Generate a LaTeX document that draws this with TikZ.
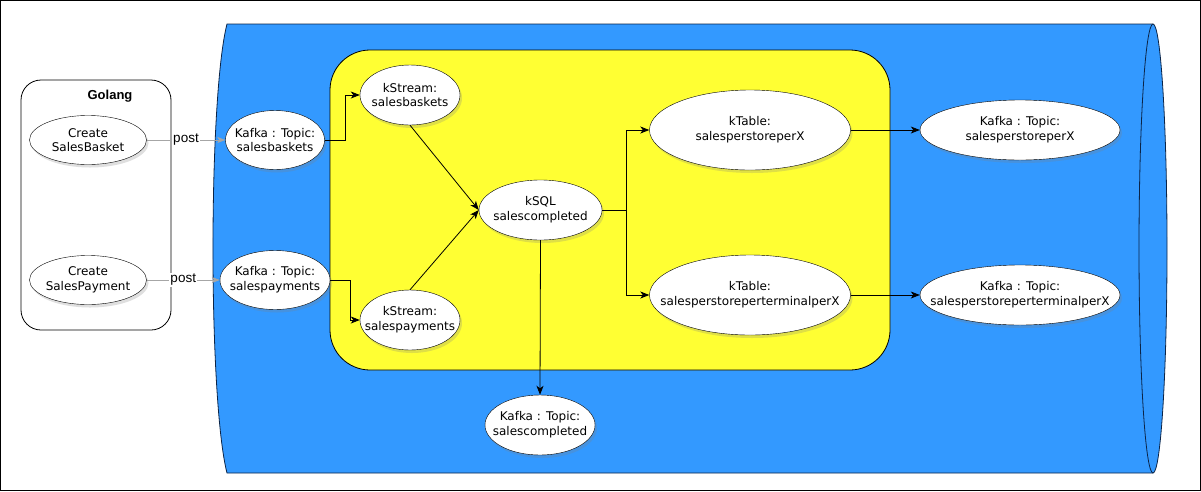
\documentclass[tikz,border=0pt]{standalone}
\usepackage{fontspec}
\setmainfont{DejaVu Sans}
\newfontfamily\helv{Liberation Sans}
\usetikzlibrary{shapes.geometric,arrows.meta,shadows}
\definecolor{cylblue}{HTML}{3399FF}
\definecolor{cylline}{HTML}{0B2447}
\definecolor{ylw}{HTML}{FFFF33}
\definecolor{postgray}{HTML}{A6A6A6}
\tikzset{
  ell/.style={ellipse, draw=black, fill=white, inner sep=0pt,
    drop shadow={shadow xshift=2pt, shadow yshift=-3pt, opacity=0.25}},
  txt/.style={align=center, inner sep=0pt, font=\fontsize{12}{14.7}\selectfont},
  arr/.style={draw=black, line width=0.8pt, -{Stealth[length=9pt,width=7pt,inset=2.5pt]}},
  postarr/.style={draw=postgray, line width=0.8pt, -{Stealth[length=8pt,width=6pt,inset=2pt]}},
  postlbl/.style={fill=white, inner sep=1pt, font=\helv\fontsize{13.5}{15}\selectfont}
}
\begin{document}
\begin{tikzpicture}[x=1pt,y=-1pt]
\useasboundingbox (0,0) rectangle (1201,491);
\draw[black, line width=1pt] (0.5,0.5) rectangle (1200.5,490.5);
% Golang container
\draw[black, line width=0.8pt, fill=white, rounded corners=20pt] (21,80) rectangle (171,330);
\node[font=\helv\bfseries\fontsize{13}{15}\selectfont] (golang) at (110,96) {Golang};
% Cylinder
\fill[cylblue] (227,24) -- (1153,24) -- (1153,473) -- (227,473) .. controls (208.3,400) and (208.3,97) .. (227,24) -- cycle;
\draw[cylline, line width=0.8pt] (1153,24) -- (227,24) .. controls (208.3,97) and (208.3,400) .. (227,473) -- (1153,473);
\filldraw[fill=cylblue, draw=cylline, line width=0.8pt] (1153,248.5) ellipse [x radius=14pt, y radius=224.5pt];
% Yellow container
\draw[black, line width=0.8pt, fill=ylw, rounded corners=40pt] (330,50) rectangle (890,370);
% Nodes
\node[ell, minimum width=117pt, minimum height=49pt, label={[txt]center:{Create\\SalesBasket}}] (csb) at (88,140) {};
\node[ell, minimum width=117pt, minimum height=49pt, label={[txt]center:{Create\\SalesPayment}}] (csp) at (88,280) {};
\node[ell, minimum width=99pt, minimum height=59pt, label={[txt]center:{Kafka : Topic:\\salesbaskets}}] (ktsb) at (275,140) {};
\node[ell, minimum width=110pt, minimum height=59pt, label={[txt]center:{Kafka : Topic:\\salespayments}}] (ktsp) at (275,280) {};
\node[ell, minimum width=100pt, minimum height=60pt, label={[txt]center:{kStream:\\salesbaskets}}] (kssb) at (410,95) {};
\node[ell, minimum width=100pt, minimum height=60pt, label={[txt]center:{kStream:\\salespayments}}] (kssp) at (410,320) {};
\node[ell, minimum width=123pt, minimum height=60pt, label={[txt]center:{kSQL\\salescompleted}}] (ksql) at (540.5,210) {};
\node[ell, minimum width=110pt, minimum height=60pt, label={[txt]center:{Kafka : Topic:\\salescompleted}}] (ktsc) at (540,425) {};
\node[ell, minimum width=201pt, minimum height=80pt, label={[txt]center:{kTable:\\salesperstoreperX}}] (kt1) at (750,130) {};
\node[ell, minimum width=201pt, minimum height=80pt, label={[txt]center:{kTable:\\salesperstoreperterminalperX}}] (kt2) at (750,295) {};
\node[ell, minimum width=200pt, minimum height=60pt, label={[txt]center:{Kafka : Topic:\\salesperstoreperX}}] (kto1) at (1020,130) {};
\node[ell, minimum width=200pt, minimum height=60pt, label={[txt]center:{Kafka : Topic:\\salesperstoreperterminalperX}}] (kto2) at (1020,295) {};
% Connectors
\draw[postarr] (csb) -- node[postlbl] {post} (ktsb);
\draw[postarr] (csp) -- node[postlbl] {post} (ktsp);
\draw[arr] (ktsb.east) -- ++(21,0) |- (kssb.west);
\draw[arr] (ktsp.east) -- ++(20,0) |- (kssp.west);
\draw[arr] (kssb.south) -- (ksql.west);
\draw[arr] (kssp.north) -- (ksql.west);
\draw[arr] (ksql.south) -- (ktsc.north);
\draw[arr] (ksql.east) -- ++(24,0) |- (kt1.west);
\draw[arr] (ksql.east) -- ++(24,0) |- (kt2.west);
\draw[arr] (kt1.east) -- (kto1.west);
\draw[arr] (kt2.east) -- (kto2.west);
\end{tikzpicture}
\end{document}
